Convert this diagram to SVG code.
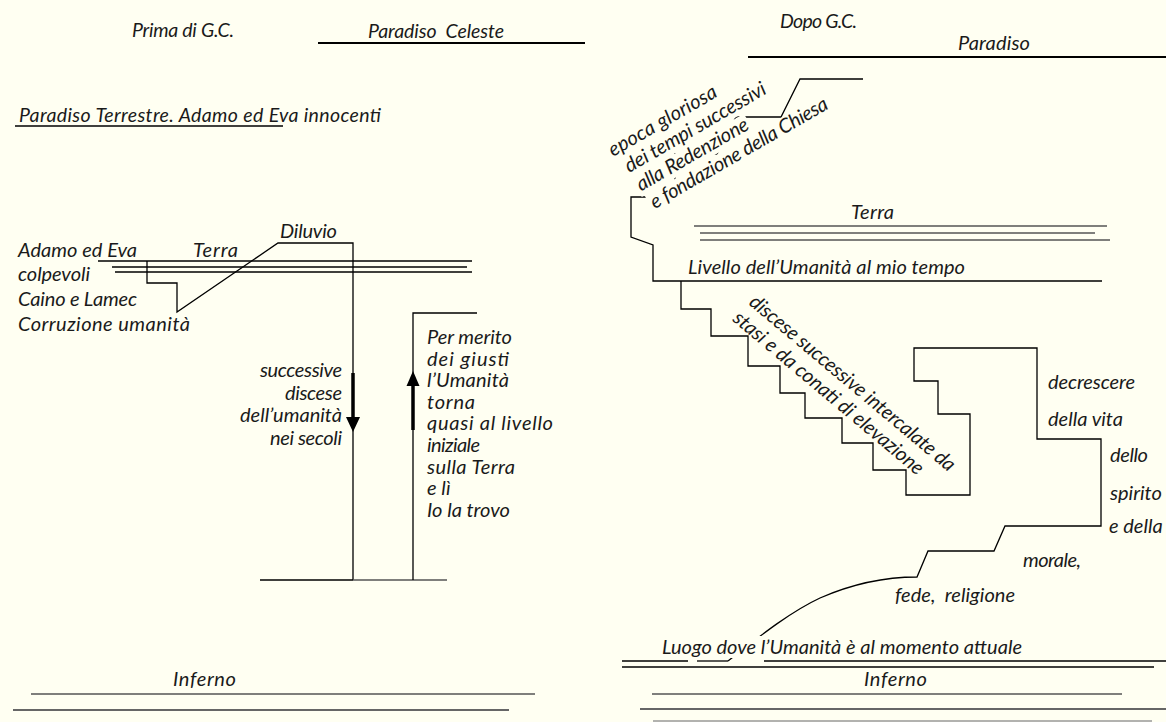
<svg xmlns="http://www.w3.org/2000/svg" width="1166" height="722" viewBox="0 0 1166 722">
<style>
text{font-family:Lato,"Open Sans","Liberation Sans",sans-serif;font-style:italic;font-size:20px;fill:#1a1a1a}
.pre{white-space:pre}
.ln{fill:none;stroke:#000;stroke-width:1.3}
.g{fill:none;stroke:#555;stroke-width:1.6}
.lg{fill:none;stroke:#999;stroke-width:1.6}
.thick{fill:none;stroke:#000;stroke-width:2.2}
.bg{fill:#FFFFF2}
.arr{fill:none;stroke:#000;stroke-width:3.5}
.sm{font-size:19.5px}
</style>
<rect width="1166" height="722" fill="#FFFFF2"/>
<g id="connectors">
<line class="thick" x1="318" y1="43" x2="585" y2="43"/>
<line class="ln" x1="15" y1="126" x2="283" y2="126"/>
<line class="ln" x1="98" y1="261" x2="472" y2="261"/>
<line class="ln" x1="112" y1="267" x2="467" y2="267"/>
<line class="ln" x1="115" y1="272" x2="472" y2="272"/>
<polyline class="ln" points="147,261 147,283 177,283 177,312 278,243 353,243 353,580"/>
<line class="ln" x1="260" y1="580" x2="353" y2="580"/>
<line class="g" x1="353" y1="580" x2="447" y2="580"/>
<polyline class="ln" points="477,313 413,313 413,580"/>
<line class="arr" x1="353" y1="373" x2="353" y2="420"/>
<polygon points="346,417 360,417 353,432" fill="#000"/>
<line class="arr" x1="413" y1="430" x2="413" y2="384"/>
<polygon points="406.5,386 419.5,386 413,371" fill="#000"/>
<line class="g" x1="31" y1="694" x2="535" y2="694"/>
<line class="g" x1="13" y1="710" x2="509" y2="710" style="stroke-width:2;stroke:#666"/>
<line class="thick" x1="748" y1="57" x2="1166" y2="57"/>
<polyline class="ln" points="863,79 800,79 781,117 736,117 717,154 675,154 675,197 631,197 631,237 653,245 653,281 1102,281"/>
<line class="g" x1="694" y1="226" x2="1107" y2="226"/>
<line class="g" x1="700" y1="233" x2="1095" y2="233"/>
<line class="g" x1="700" y1="240" x2="1110" y2="240"/>
<path class="ln" d="M681,281 V309 H711 V336 H748 V366 H780 V393 H805 V418 H842 V443 H873 V470 H906 V495 H970 V414 H938 V381 H914 V348 H1037 V439 H1101 V526 H1005 L994,551 H928 L917,577 C884,577 852,584 820,598 C790,612 760,636 728,661"/>
<line class="ln" x1="622" y1="661" x2="688" y2="661"/>
<line class="ln" x1="697" y1="661" x2="728" y2="661"/>
<line class="ln" x1="764" y1="661" x2="1166" y2="661"/>
<line class="ln" x1="622" y1="667" x2="1154" y2="667"/>
<line class="g" x1="652" y1="694" x2="1122" y2="694"/>
<line class="g" x1="640" y1="709" x2="1166" y2="709" style="stroke-width:2;stroke:#666"/>
<line class="lg" x1="653" y1="721" x2="1152" y2="721"/>
</g>
<g id="before-christ">
<text class="sm" x="132" y="37" textLength="102">Prima di G.C.</text>
<text class="pre sm" x="368" y="38" textLength="136">Paradiso  Celeste</text>
<text class="sm" x="19" y="122" textLength="362">Paradiso Terrestre. Adamo ed Eva innocenti</text>
</g>
<g id="earth-left">
<text x="280" y="238" textLength="57">Diluvio</text>
<text x="18" y="257" textLength="119">Adamo ed Eva</text>
<text x="193" y="257" textLength="45">Terra</text>
<text x="18" y="281" textLength="72">colpevoli</text>
<text x="18" y="306" textLength="119">Caino e Lamec</text>
<text x="18" y="331" textLength="172">Corruzione umanità</text>
</g>
<g id="descent-left">
<text x="260" y="377" textLength="82">successive</text>
<text x="285" y="400" textLength="57">discese</text>
<text x="240" y="422" textLength="102">dell’umanità</text>
<text x="270" y="445" textLength="72">nei secoli</text>
</g>
<g id="return-left">
<text x="427" y="344" textLength="85">Per merito</text>
<text x="427" y="366" textLength="82">dei giusti</text>
<text x="427" y="387" textLength="82">l’Umanità</text>
<text x="427" y="409" textLength="48">torna</text>
<text x="427" y="430" textLength="126">quasi al livello</text>
<text x="427" y="452" textLength="53">iniziale</text>
<text x="427" y="474" textLength="88">sulla Terra</text>
<text x="427" y="495">e lì</text>
<text x="427" y="517" textLength="83">Io la trovo</text>
</g>
<g id="inferno-left">
<text x="173" y="686" textLength="63">Inferno</text>
</g>
<g id="after-christ">
<text class="sm" x="780" y="28" textLength="77">Dopo G.C.</text>
<text x="958" y="50" textLength="72">Paradiso</text>
</g>
<g id="glorious-epoch" transform="translate(613,157) rotate(-30)">
<rect class="bg" x="-2" y="-16" width="127" height="21"/>
<rect class="bg" x="4" y="6" width="164" height="21"/>
<rect class="bg" x="5" y="28" width="130" height="21"/>
<rect class="bg" x="8" y="50" width="206" height="21"/>
<text x="0" y="0" textLength="122">epoca gloriosa</text>
<text x="6" y="22" textLength="160">dei tempi successivi</text>
<text x="7" y="44" textLength="126">alla Redenzione</text>
<text x="10" y="66" textLength="202">e fondazione della Chiesa</text>
</g>
<g id="earth-right">
<text x="851" y="219" textLength="43">Terra</text>
<text x="688" y="274" textLength="277">Livello dell’Umanità al mio tempo</text>
</g>
<g id="descents-right" transform="translate(748,304) rotate(40)">
<text x="0" y="0" textLength="262">discese successive intercalate da</text>
<text x="-2" y="23" textLength="242">stasi e da conati di elevazione</text>
</g>
<g id="decline-right">
<text x="1048" y="389" textLength="87">decrescere</text>
<text x="1048" y="426" textLength="75">della vita</text>
<text x="1110" y="462" textLength="38">dello</text>
<text x="1110" y="500">spirito</text>
<text x="1109" y="533">e della</text>
<text x="1023" y="567" textLength="58">morale,</text>
<text class="pre" x="895" y="602" textLength="120">fede,  religione</text>
</g>
<g id="present-right">
<rect class="bg" x="700" y="636" width="70" height="22"/>
<text x="662" y="654" textLength="360">Luogo dove l’Umanità è al momento attuale</text>
<text x="864" y="686" textLength="63">Inferno</text>
</g>
</svg>
